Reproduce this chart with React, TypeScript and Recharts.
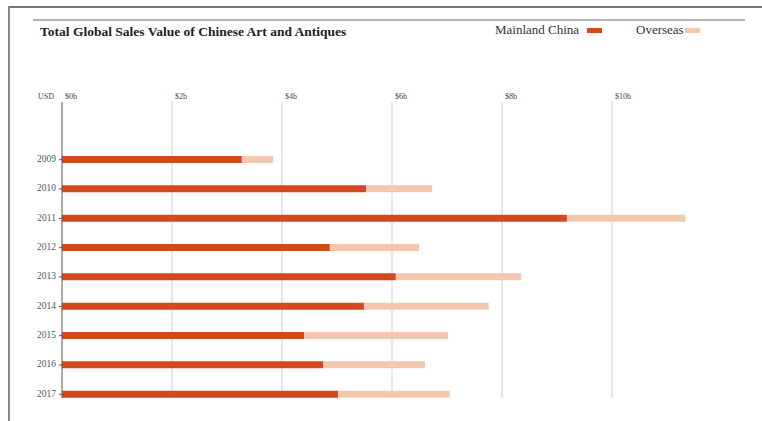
import { BarChart, Bar, XAxis, YAxis, CartesianGrid } from "recharts";

// values in USD billions
const years = ["2009", "2010", "2011", "2012", "2013", "2014", "2015", "2016", "2017"];
const mainland = [3.27, 5.53, 9.18, 4.87, 6.07, 5.49, 4.4, 4.75, 5.02];
const overseas = [0.57, 1.2, 2.15, 1.62, 2.28, 2.27, 2.62, 1.85, 2.03];
const xTicks = [0, 2, 4, 6, 8, 10];
const gridValues = [2, 4, 6, 8, 10];

const data = years.map((year, i) => ({
    year,
    mainland: mainland[i],
    overseas: overseas[i],
}));

const RED = "#D2491F";
const PEACH = "#F3C8AC";
const FONT = "'Liberation Serif', 'DejaVu Serif', serif";

function XTick(props: any) {
    const { x, payload } = props;
    return (
        <text x={x + 3} y={97} fontSize={8} fontFamily={FONT} fill="#444" dominantBaseline="middle">
            {`$${payload.value}b`}
        </text>
    );
}

function YTick(props: any) {
    const { x, y, payload } = props;
    return (
        <text x={x - 1} y={y} fontSize={9.5} fontFamily={FONT} fill="#555" textAnchor="end" dominantBaseline="middle">
            {payload.value}
        </text>
    );
}

// grid only at the labelled ticks past zero (no line on the right edge)
const gridX = (p: any) => {
    const scale = p?.xAxis?.scale;
    if (typeof scale === "function") return gridValues.map((v) => scale(v));
    return gridValues.map((v) => p.offset.left + (v / 12) * p.offset.width);
};

export default function App() {
    return (
        <div style={{ position: "absolute", left: 0, top: 0, width: 762, height: 421, background: "#fff", fontFamily: FONT }}>
            {/* frame lines */}
            <div style={{ position: "absolute", left: 8, top: 6, width: 754, height: 2, background: "#777" }} />
            <div style={{ position: "absolute", left: 8, top: 6, width: 2, height: 415, background: "#888" }} />
            <div style={{ position: "absolute", left: 33, top: 19, width: 712, height: 2, background: "#b5b5b5" }} />

            <div style={{ position: "absolute", left: 40, top: 24, fontSize: 13.5, fontWeight: "bold", color: "#222" }}>
                Total Global Sales Value of Chinese Art and Antiques
            </div>

            <div style={{ position: "absolute", left: 495, top: 22, fontSize: 13, color: "#333", display: "flex", alignItems: "center" }}>
                <span>Mainland China</span>
                <span style={{ display: "inline-block", width: 15, height: 5, background: RED, marginLeft: 8 }} />
            </div>
            <div style={{ position: "absolute", left: 636, top: 22, fontSize: 13, color: "#333", display: "flex", alignItems: "center" }}>
                <span>Overseas</span>
                <span style={{ display: "inline-block", width: 15, height: 5, background: PEACH, marginLeft: 1 }} />
            </div>

            <div style={{ position: "absolute", left: 38, top: 92, fontSize: 8, color: "#444" }}>USD</div>

            <div style={{ position: "absolute", left: 0, top: 0 }}>
                <BarChart
                    width={762}
                    height={421}
                    data={data}
                    layout="vertical"
                    margin={{ top: 72, right: 40, bottom: 23, left: 0 }}
                    barSize={7}
                >
                    <CartesianGrid horizontal={false} vertical stroke="#cfcfcf" verticalCoordinatesGenerator={gridX} />
                    <XAxis
                        type="number"
                        orientation="top"
                        domain={[0, 12]}
                        ticks={xTicks}
                        axisLine={false}
                        tickLine={false}
                        height={30}
                        tick={<XTick />}
                        interval={0}
                    />
                    <YAxis
                        type="category"
                        dataKey="year"
                        width={62}
                        axisLine={{ stroke: "#555" }}
                        tickLine={{ stroke: "#555" }}
                        tickSize={3}
                        tick={<YTick />}
                        padding={{ top: 43, bottom: -11 }}
                        interval={0}
                    />
                    <Bar dataKey="mainland" stackId="a" fill={RED} isAnimationActive={false} />
                    <Bar dataKey="overseas" stackId="a" fill={PEACH} isAnimationActive={false} />
                </BarChart>
            </div>
        </div>
    );
}
